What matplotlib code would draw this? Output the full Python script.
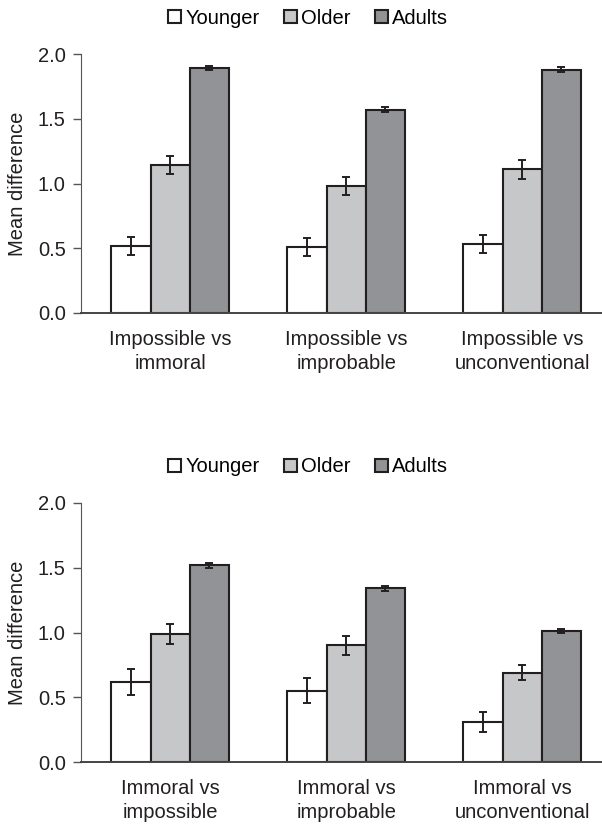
import numpy as np
import matplotlib
matplotlib.use("Agg")
import matplotlib.pyplot as plt

plt.rcParams['font.family'] = ['Liberation Sans', 'DejaVu Sans']

groups = ['Younger', 'Older', 'Adults']
colors = ['white', '#c6c7c9', '#929396']

top_labels = ['Impossible vs\nimmoral', 'Impossible vs\nimprobable', 'Impossible vs\nunconventional']
top_means = [[0.52, 0.51, 0.53], [1.14, 0.98, 1.11], [1.89, 1.57, 1.88]]
top_errs = [[0.07, 0.07, 0.07], [0.07, 0.07, 0.075], [0.015, 0.02, 0.02]]

bot_labels = ['Immoral vs\nimpossible', 'Immoral vs\nimprobable', 'Immoral vs\nunconventional']
bot_means = [[0.62, 0.55, 0.31], [0.99, 0.90, 0.69], [1.52, 1.34, 1.01]]
bot_errs = [[0.10, 0.095, 0.075], [0.075, 0.07, 0.06], [0.02, 0.02, 0.015]]

W, H = 602, 824
fig = plt.figure(figsize=(W / 100, H / 100), dpi=100)
ax1 = fig.add_axes([81 / W, 1 - 313 / H, 1 - 81 / W, 259 / H])
ax2 = fig.add_axes([81 / W, 1 - 762 / H, 1 - 81 / W, 259 / H])

w = 0.2227
x = np.arange(3)
fs = 14.5
ink = '#231f20'


def draw(ax, labels, means, errs, legend_y):
    handles = []
    for i, g in enumerate(groups):
        b = ax.bar(x + (i - 1) * w, means[i], w, color=colors[i], edgecolor=ink,
                   linewidth=1.5, label=g, zorder=2)
        ax.errorbar(x + (i - 1) * w, means[i], yerr=errs[i], fmt='none', ecolor=ink,
                    elinewidth=1.4, capsize=3, capthick=1.4, zorder=3)
        handles.append(b)
    ax.set_xlim(-0.507, 2.453)
    ax.set_ylim(0, 2.0)
    ax.set_yticks([0, 0.5, 1.0, 1.5, 2.0])
    ax.set_yticklabels(['0.0', '0.5', '1.0', '1.5', '2.0'])
    ax.set_xticks(x)
    ax.set_xticklabels(labels, linespacing=1.3)
    ax.tick_params(axis='x', length=0, pad=12.5, labelsize=fs, colors=ink)
    ax.tick_params(axis='y', length=6, width=1, direction='out', labelsize=fs, pad=5,
                   colors='#555555', labelcolor=ink)
    for s in ['top', 'right']:
        ax.spines[s].set_visible(False)
    ax.spines['left'].set_color('#555555')
    ax.spines['bottom'].set_color('#444444')
    ax.spines['bottom'].set_linewidth(1.4)
    ax.set_ylabel('Mean difference', fontsize=fs, color=ink, labelpad=8)
    fig.legend(handles, groups, loc='center', bbox_to_anchor=(308 / W, legend_y),
               ncol=3, frameon=False, fontsize=fs, handlelength=0.65, handleheight=0.65,
               handletextpad=0.2, columnspacing=1.2, borderpad=0)


draw(ax1, top_labels, top_means, top_errs, 1 - 18 / H)
draw(ax2, bot_labels, bot_means, bot_errs, 1 - 467 / H)

fig.savefig('out.png', dpi=100)
